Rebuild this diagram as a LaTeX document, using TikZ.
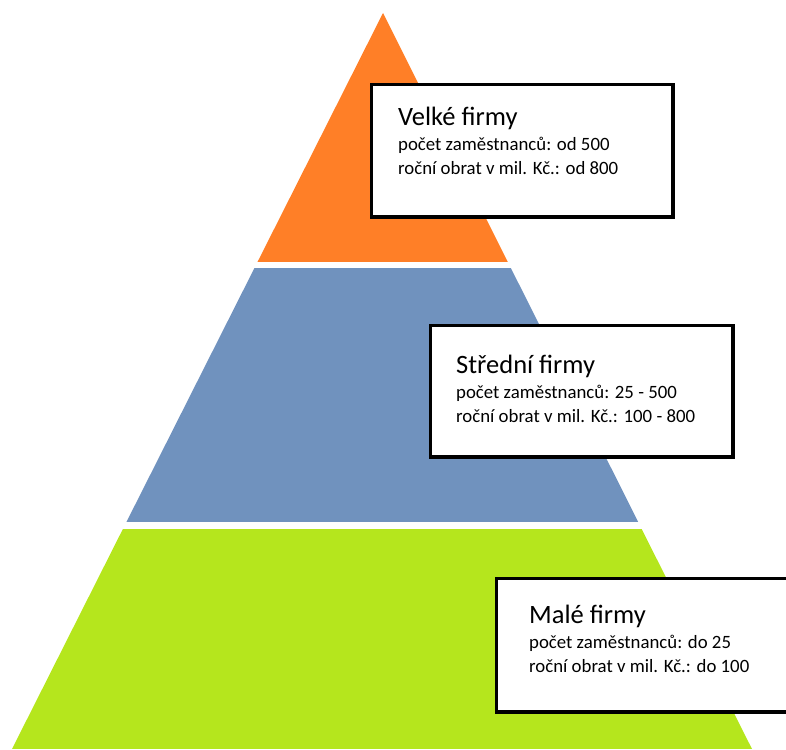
\documentclass[tikz,border=0pt]{standalone}
\usepackage{fontspec}
\setmainfont{Carlito}
\usetikzlibrary{positioning}

\definecolor{velkecol}{HTML}{FF7F27}
\definecolor{strednicol}{HTML}{7092BE}
\definecolor{malecol}{HTML}{B5E61D}

\tikzset{
  infobox/.style={draw=black, line width=3.5pt, fill=white, anchor=north west, inner sep=0pt},
  titletext/.style={anchor=base west, inner sep=0pt, font=\fontsize{26.5}{26.5}\selectfont},
  detailtext/.style={anchor=base west, inner sep=0pt, align=left, font=\fontsize{18.8}{24}\selectfont},
}

\begin{document}
\begin{tikzpicture}[x=1pt,y=-1pt]
  \useasboundingbox (0,0) rectangle (786,749);
  \clip (0,0) rectangle (786,749);

  % pyramid
  \coordinate (apex) at (383,13);
  \coordinate (baseL) at (12,749);
  \coordinate (baseR) at (752,749);
  \begin{scope}
    \clip (apex) -- (baseL) -- (baseR) -- cycle;
    \fill[velkecol] (0,0) rectangle (786,262);
    \fill[strednicol] (0,268) rectangle (786,522);
    \fill[malecol] (0,529) rectangle (786,749);
  \end{scope}

  % boxes (detail node sits on its last line)
  \node[infobox, minimum width=301.5pt, minimum height=132.5pt] (velke) at (369.75,82.75) {};
  \node[titletext] (velketitle) at ([shift={(28.25,42.25)}]velke.north west) {Velké firmy};
  \node[detailtext] (velkeinfo) at ([shift={(0,49)}]velketitle.base west)
    {počet zaměstnanců: od 500\\roční obrat v mil. Kč.: od 800};

  \node[infobox, minimum width=302.5pt, minimum height=131.5pt] (stredni) at (428.75,323.75) {};
  \node[titletext] (strednititle) at ([shift={(27.25,49.25)}]stredni.north west) {Střední firmy};
  \node[detailtext] (stredniinfo) at ([shift={(0,49)}]strednititle.base west)
    {počet zaměstnanců: 25 - 500\\roční obrat v mil. Kč.: 100 - 800};

  \node[infobox, minimum width=310pt, minimum height=133.5pt] (male) at (494.75,576.75) {};
  \node[titletext] (maletitle) at ([shift={(34.25,46.25)}]male.north west) {Malé firmy};
  \node[detailtext] (maleinfo) at ([shift={(0,49)}]maletitle.base west)
    {počet zaměstnanců: do 25\\roční obrat v mil. Kč.: do 100};
\end{tikzpicture}
\end{document}
